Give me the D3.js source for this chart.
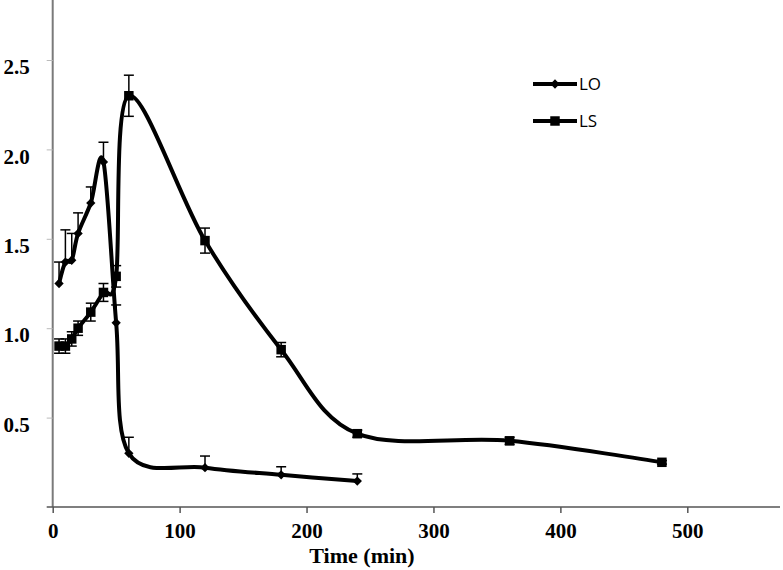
<!DOCTYPE html>
<html>
<head>
<meta charset="utf-8">
<script src="https://cdn.jsdelivr.net/npm/d3@7"></script>
<style>
  html, body { margin: 0; padding: 0; background: #fff; }
  svg { display: block; }
</style>
</head>
<body>
<div id="chart"></div>
<script>
// Time points (min) and values
const timeLO = [5, 10, 15, 20, 30, 40, 50, 60, 120, 180, 240];
const valueLO = [1.25, 1.37, 1.38, 1.53, 1.70, 1.93, 1.03, 0.30, 0.22, 0.18, 0.145];
const errorLO = [0.12, 0.18, 0.15, 0.115, 0.09, 0.11, 0.10, 0.09, 0.065, 0.045, 0.04];

const timeLS = [5, 10, 15, 20, 30, 40, 50, 60, 120, 180, 240, 360, 480];
const valueLS = [0.90, 0.90, 0.94, 1.00, 1.09, 1.20, 1.29, 2.30, 1.49, 0.88, 0.41, 0.37, 0.25];
const errorLS = [0.04, 0.04, 0.04, 0.04, 0.05, 0.05, 0.06, 0.115, 0.07, 0.04, 0.02, 0.02, 0.01];

const xTicks = [0, 100, 200, 300, 400, 500];
const yTicks = [0.5, 1.0, 1.5, 2.0, 2.5];
const seriesNames = ["LO", "LS"];
const xTitle = "Time (min)";

const W = 783, H = 570;

const svg = d3.select("#chart").append("svg")
  .attr("width", W)
  .attr("height", H);

// scales (0 -> 52.7px, 500 -> 687.3px; 0 -> 507px, 2.5 -> 60px)
const x = d3.scaleLinear().domain([0, 500]).range([52.7, 687.3]);
const y = d3.scaleLinear().domain([0, 2.5]).range([507, 60]);

const axisColor = "#7a7a7a";
const serif = "'Liberation Serif', 'Times New Roman', serif";

// y axis line runs to the top edge
svg.append("line")
  .attr("x1", x(0)).attr("x2", x(0))
  .attr("y1", 0).attr("y2", y(0))
  .attr("stroke", axisColor).attr("stroke-width", 2);

// x axis line runs to the right edge
svg.append("line")
  .attr("x1", x(0) - 6).attr("x2", 780)
  .attr("y1", y(0)).attr("y2", y(0))
  .attr("stroke", "#555").attr("stroke-width", 1.5);

// x axis ticks and labels
const xAxis = d3.axisBottom(x).tickValues(xTicks).tickSize(6).tickPadding(10).tickFormat(d3.format("d"));
const gx = svg.append("g").attr("transform", `translate(0,${y(0)})`).call(xAxis);
gx.select(".domain").remove();
gx.selectAll(".tick line").attr("stroke", "#555").attr("stroke-width", 1.5);
gx.selectAll(".tick text")
  .attr("fill", "#000")
  .style("font-family", serif)
  .style("font-weight", "bold")
  .style("font-size", "21px");

// y axis ticks and labels
const yAxis = d3.axisLeft(y).tickValues(yTicks).tickSize(6).tickPadding(17).tickFormat(d3.format(".1f"));
const gy = svg.append("g").attr("transform", `translate(${x(0)},0)`).call(yAxis);
gy.select(".domain").remove();
gy.selectAll(".tick line").attr("stroke", "#bbb").attr("stroke-width", 1);
gy.selectAll(".tick text")
  .attr("fill", "#000")
  .attr("dy", "0.65em")
  .style("font-family", serif)
  .style("font-weight", "bold")
  .style("font-size", "21px");

// x axis title
svg.append("text")
  .attr("x", 362)
  .attr("y", 563)
  .attr("text-anchor", "middle")
  .style("font-family", serif)
  .style("font-weight", "bold")
  .style("font-size", "22px")
  .text(xTitle);

// smoothed line like Excel's "smoothed line"
const line = d3.line()
  .x(d => x(d.t))
  .y(d => y(d.v))
  .curve(d3.curveCatmullRom.alpha(0));

const dataLO = timeLO.map((t, i) => ({ t, v: valueLO[i], e: errorLO[i] }));
const dataLS = timeLS.map((t, i) => ({ t, v: valueLS[i], e: errorLS[i] }));

// error bars: LO upward only, LS both ways
function drawErrors(data, both) {
  const g = svg.append("g").attr("stroke", "#000").attr("stroke-width", 1.5);
  data.forEach(d => {
    const top = y(d.v + d.e);
    const bot = both ? y(d.v - d.e) : y(d.v);
    g.append("line")
      .attr("x1", x(d.t)).attr("x2", x(d.t))
      .attr("y1", top).attr("y2", bot);
    g.append("line")
      .attr("x1", x(d.t) - 5).attr("x2", x(d.t) + 5)
      .attr("y1", top).attr("y2", top);
    if (both) {
      g.append("line")
        .attr("x1", x(d.t) - 5).attr("x2", x(d.t) + 5)
        .attr("y1", bot).attr("y2", bot);
    }
  });
}

drawErrors(dataLO, false);
drawErrors(dataLS, true);

svg.append("path")
  .datum(dataLS)
  .attr("fill", "none")
  .attr("stroke", "#000")
  .attr("stroke-width", 4)
  .attr("d", line);

svg.append("path")
  .datum(dataLO)
  .attr("fill", "none")
  .attr("stroke", "#000")
  .attr("stroke-width", 4)
  .attr("d", line);

const diamond = d3.symbol().type(d3.symbolDiamond2).size(55);
const square = d3.symbol().type(d3.symbolSquare).size(90);

svg.selectAll(".mk-lo")
  .data(dataLO)
  .enter()
  .append("path")
  .attr("class", "mk-lo")
  .attr("transform", d => `translate(${x(d.t)},${y(d.v)})`)
  .attr("d", diamond)
  .attr("fill", "#000");

svg.selectAll(".mk-ls")
  .data(dataLS)
  .enter()
  .append("path")
  .attr("class", "mk-ls")
  .attr("transform", d => `translate(${x(d.t)},${y(d.v)})`)
  .attr("d", square)
  .attr("fill", "#000");

// legend
const legend = svg.append("g").attr("transform", "translate(533,84)");
[diamond, square].forEach((sym, i) => {
  const row = legend.append("g").attr("transform", `translate(0,${i * 37})`);
  row.append("line")
    .attr("x1", 0).attr("x2", 44)
    .attr("stroke", "#000").attr("stroke-width", 4);
  row.append("path")
    .attr("transform", "translate(22,0)")
    .attr("d", sym)
    .attr("fill", "#000");
  row.append("text")
    .attr("x", 46)
    .attr("y", 0)
    .attr("dy", "0.35em")
    .style("font-family", "'Open Sans', 'Liberation Sans', sans-serif")
    .style("font-size", "17px")
    .text(seriesNames[i]);
});
</script>
</body>
</html>
